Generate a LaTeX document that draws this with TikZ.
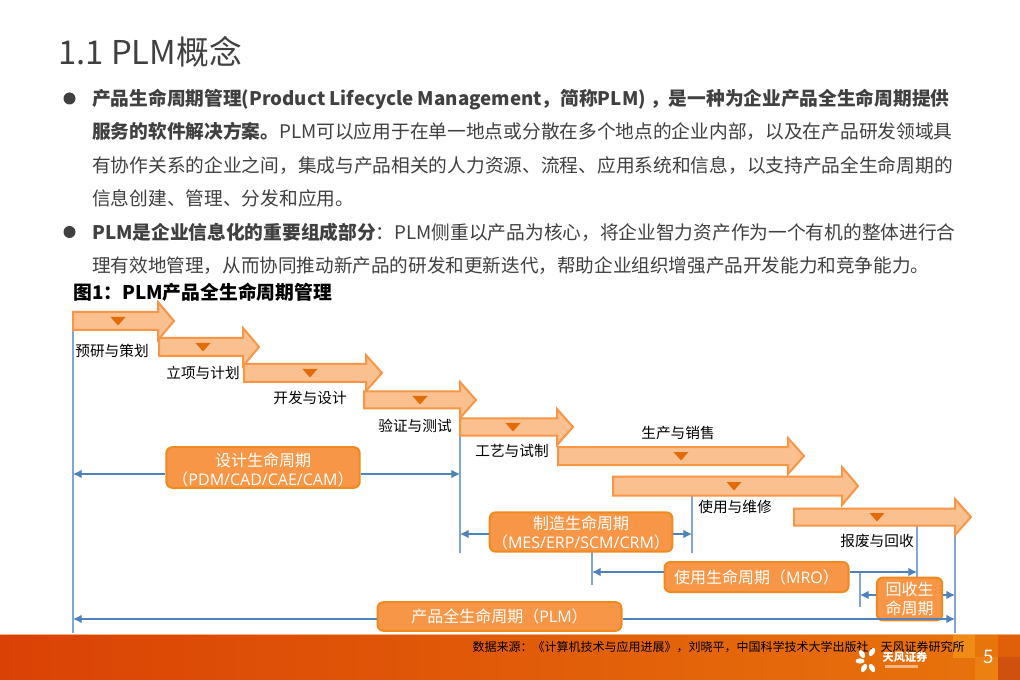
\documentclass[tikz,border=0pt]{standalone}
\usepackage{fontspec}
\setmainfont{Noto Sans CJK SC}
\newfontfamily\latinfont{Open Sans}
\usetikzlibrary{arrows.meta,shapes.geometric}
\definecolor{inktext}{HTML}{404040}
\definecolor{stageline}{HTML}{F79646}
\definecolor{stagefill}{HTML}{FBC08F}
\definecolor{stagemark}{HTML}{E36C0A}
\definecolor{boxline}{HTML}{F08A1E}
\definecolor{guideline}{HTML}{7FA6D6}
\definecolor{spanline}{HTML}{4F81BD}
\definecolor{bandleft}{HTML}{DA4205}
\definecolor{bandright}{HTML}{E8740C}
\definecolor{bandtop}{HTML}{F0B080}
\definecolor{patchA}{HTML}{F08C14}
\definecolor{patchB}{HTML}{EC8010}
\definecolor{patchC}{HTML}{D0500E}
\definecolor{patchD}{HTML}{E0600A}
\definecolor{patchE}{HTML}{E8740C}
\begin{document}
\begin{tikzpicture}[
    x=0.75pt, y=-0.75pt,
    bodyline/.style ={
        anchor=base west,
        inner sep=0pt,
        text=inktext,
        font=\fontsize{14.03}{17}\selectfont
    },
    stagelabel/.style ={
        inner sep=0pt,
        text=black,
        font=\fontsize{11}{13}\selectfont
    },
    stagebox/.style ={
        draw=boxline,
        fill=stageline,
        line width=1.5pt,
        rounded corners=4.5pt,
        inner sep=0pt,
        text=white,
        align=center,
        font=\fontsize{12}{14.2}\selectfont
    },
    guide/.style ={
        draw=guideline,
        line width=1pt
    },
    span/.style ={
        draw=spanline,
        line width=1pt,
        -{Latex[length=6.5pt,width=6.5pt]}
    },
    stagearrow/.style ={
        draw=stageline,
        fill=stagefill,
        line width=1.5pt
    }
    ]
    \useasboundingbox (0,0) rectangle (1020,680);
    \fill[white] (0,0) rectangle (1020,680);

    % heading and body text
    \node[bodyline, font=\fontsize{24.6}{28}\selectfont] (heading) at (58,65) {1.1 PLM概念};
    \foreach \name/\y in {dotA/98.5, dotB/232}
        \node[circle, fill=inktext, inner sep=0pt, minimum size=9pt] (\name) at (69.5,\y) {};
    \foreach \name/\y/\txt in {
        lineA/106/{{\bfseries 产品生命周期管理(Product Lifecycle Management，简称PLM) ，是一种为企业产品全生命周期提供}},
        lineB/139/{{\bfseries 服务的软件解决方案。}PLM可以应用于在单一地点或分散在多个地点的企业内部，以及在产品研发领域具},
        lineC/173/{有协作关系的企业之间，集成与产品相关的人力资源、流程、应用系统和信息，以支持产品全生命周期的},
        lineD/206/{信息创建、管理、分发和应用。},
        lineE/240/{{\bfseries PLM是企业信息化的重要组成部分}：PLM侧重以产品为核心，将企业智力资产作为一个有机的整体进行合},
        lineF/273/{\fontsize{13.95}{17}\selectfont 理有效地管理，从而协同推动新产品的研发和更新迭代，帮助企业组织增强产品开发能力和竞争能力。}}
        \node[bodyline] (\name) at (92,\y) {\txt};
    \node[bodyline, text=black, font=\fontsize{14.1}{17}\selectfont\bfseries] (figtitle) at (73,300) {图1：PLM产品全生命周期管理};

    % footer band
    \shade[left color=bandleft, right color=bandright] (0,634) rectangle (1020,680);
    \fill[bandtop] (0,633.5) rectangle (1020,634.5);
    \fill[patchA] (953,635) rectangle (975,658);
    \fill[patchE] (975,635) rectangle (998,657);
    \fill[patchB] (975,657) rectangle (998,680);
    \fill[patchC] (998,657) rectangle (1020,680);
    \fill[patchD] (998,635) rectangle (1020,657);
    \node[inner sep=0pt, text=black, font=\fontsize{9}{11}\selectfont] (source) at (718.5,647) {数据来源：《计算机技术与应用进展》，刘晓平，中国科学技术大学出版社，天风证券研究所};
    \foreach \ang/\cx/\cy in {60/872/652, 120/862/654, 0/860/661, 120/872/668, 60/864/668}
        \fill[white] (\cx,\cy) ellipse[x radius=4.5, y radius=2.6, rotate=\ang];
    \node[inner sep=0pt, text=white, font=\fontsize{8.4}{10}\selectfont\bfseries] (brand) at (905,657) {天风证券};
    \fill[white, opacity=0.5] (885,665) rectangle (918,667.5);
    \node[inner sep=0pt, text=white, font=\fontsize{14}{17}\selectfont] (pagenum) at (989,657) {5};

    % guide lines, drawn under the stage arrows
    \foreach \name/\x/\ya/\yb in {gA/73/330/633, gB/460/436/553, gC/692/495/553, gD/592/552/585, gE/917/526/577, gF/955/534/633, gG/860/572/607} {
        \coordinate (\name top) at (\x,\ya);
        \coordinate (\name end) at (\x,\yb);
        \draw[guide] (\name top) -- (\name end);
    }

    % stage arrows: left, neck, tip, centre, half body, half head, mark
    \foreach \name/\xa/\xb/\xc/\y/\hb/\hh/\xm in {
        sA/73/158/174/321/9/19/118, sB/159/243/259/347/9/19/203, sC/244/366/382/373/9/18/310,
        sD/364/460/476/400/8.5/18/420, sE/460/557/573/427/8.5/18/513, sF/558/788/804/456/9/18/681,
        sG/613/842/858/486/9.5/19/734, sH/794/955/971/517/8.5/18/877} {
        \draw[stagearrow, line join=miter] (\xa,\y-\hb) -- (\xb,\y-\hb) -- (\xb,\y-\hh) -- (\xc,\y) -- (\xb,\y+\hh) -- (\xb,\y+\hb) -- (\xa,\y+\hb) -- cycle;
        \fill[stagemark] (\xm-7.5,\y-4) -- (\xm+7.5,\y-4) -- (\xm,\y+4.5) -- cycle;
    }

    \foreach \name/\x/\y/\txt in {
        tagA/112/351/预研与策划, tagB/203/373/立项与计划, tagC/310/398/开发与设计, tagD/415/426/验证与测试,
        tagE/512/451/工艺与试制, tagF/678/433/生产与销售, tagG/735/507/使用与维修, tagH/877/541/报废与回收}
        \node[stagelabel] (\name) at (\x,\y) {\txt};

    % life cycle boxes
    \node[stagebox, minimum width=145pt, minimum height=30.5pt] (design) at (263,467.5) {\rule{0pt}{13.5pt}设计生命周期\\（{\latinfont PDM/CAD/CAE/CAM}）};
    \node[stagebox, minimum width=137pt, minimum height=29.5pt] (making) at (581,532) {\rule{0pt}{11.5pt}制造生命周期\\（{\latinfont MES/ERP/SCM/CRM}）};
    \node[stagebox, minimum width=138pt, minimum height=22.5pt] (service) at (756.5,577) {\rule{0pt}{11.5pt}使用生命周期（{\latinfont MRO}）};
    \node[stagebox, minimum width=49pt, minimum height=32pt] (recycle) at (909.5,599) {回收生\\命周期};
    \node[stagebox, minimum width=183pt, minimum height=21.5pt] (whole) at (499.5,616.5) {产品全生命周期（{\latinfont PLM}）};

    \foreach \stage/\lft/\rgt/\y in {design/gA/gB/474, making/gB/gC/534, service/gD/gE/572, recycle/gG/gF/595, whole/gA/gF/619} {
        \draw[span] (\stage.west |- 0,\y) -- (\lft top |- 0,\y);
        \draw[span] (\stage.east |- 0,\y) -- (\rgt top |- 0,\y);
    }
\end{tikzpicture}
\end{document}
